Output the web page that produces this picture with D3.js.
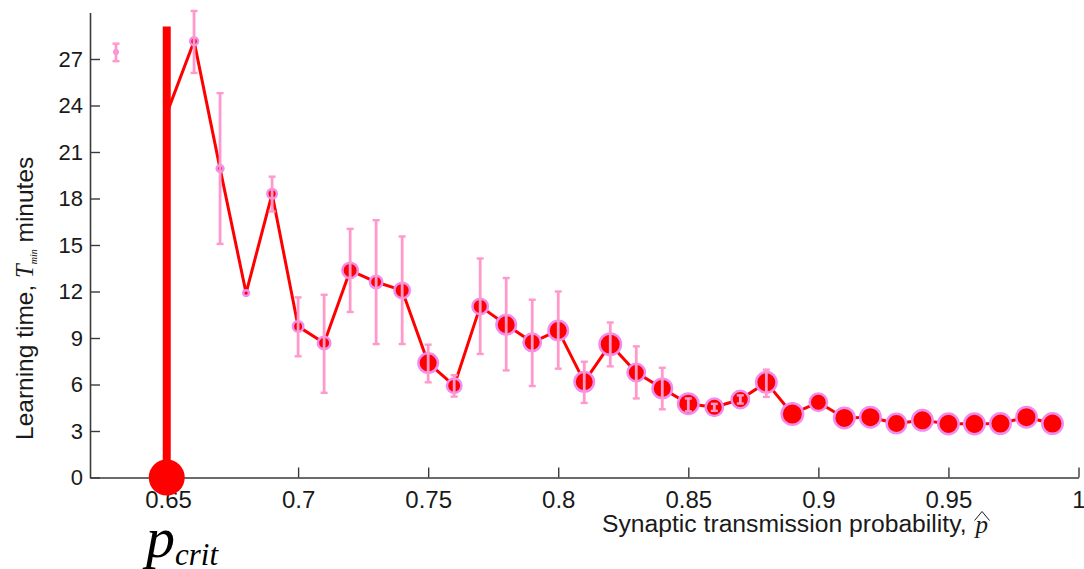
<!DOCTYPE html>
<html>
<head>
<meta charset="utf-8">
<script src="https://cdn.jsdelivr.net/npm/d3@7"></script>
<style>
  html, body { margin: 0; padding: 0; background: #fff; }
  svg { display: block; }
</style>
</head>
<body>
<svg id="chart" width="1084" height="569"></svg>
<script>
// Transmission probability at which each batch of runs was made
const pValues = [0.63, 0.64, 0.65, 0.66, 0.67, 0.68, 0.69, 0.70, 0.71, 0.72,
                 0.73, 0.74, 0.75, 0.76, 0.77, 0.78, 0.79, 0.80, 0.81, 0.82,
                 0.83, 0.84, 0.85, 0.86, 0.87, 0.88, 0.89, 0.90, 0.91, 0.92,
                 0.93, 0.94, 0.95, 0.96, 0.97, 0.98, 0.99];

// Mean learning time (minutes); no data at 0.64
const meanTime = [27.45, null, 23.7, 28.15, 19.93, 11.9, 18.3, 9.75, 8.68, 13.36,
                  12.61, 12.07, 7.39, 5.92, 11.04, 9.86, 8.72, 9.49, 6.17, 8.6,
                  6.77, 5.75, 4.76, 4.53, 5.03, 6.14, 4.1, 4.85, 3.84, 3.89,
                  3.48, 3.69, 3.46, 3.46, 3.48, 3.89, 3.48];

// Lower / upper ends of the error bars (minutes)
const lowerTime = [26.86, null, 23.7, 26.1, 15.07, 11.9, 17.16, 7.82, 5.46, 10.68,
                   8.61, 8.61, 6.14, 5.22, 7.97, 6.91, 5.9, 7.02, 4.81, 7.17,
                   5.1, 4.4, 4.27, 4.3, 4.77, 5.2, 4.1, 4.85, 3.84, 3.89,
                   3.48, 3.69, 3.46, 3.46, 3.48, 3.89, 3.48];
const upperTime = [27.99, null, 23.7, 30.1, 24.8, 11.9, 19.41, 11.62, 11.79, 16.04,
                   16.6, 15.55, 8.57, 6.6, 14.13, 12.87, 11.47, 12.0, 7.47, 10.0,
                   8.46, 7.08, 5.1, 4.75, 5.3, 6.96, 4.1, 4.85, 3.84, 3.89,
                   3.48, 3.69, 3.46, 3.46, 3.48, 3.89, 3.48];

// Fraction of runs that converged (sets marker area)
const convergedFraction = [0.06, null, 0.04, 0.19, 0.15, 0.12, 0.25, 0.29, 0.39, 0.56,
                           0.39, 0.56, 0.84, 0.5, 0.56, 0.84, 0.69, 0.84, 0.84, 1.0,
                           0.69, 0.84, 0.92, 0.69, 0.69, 0.92, 1.0, 0.69, 0.92, 0.92,
                           0.84, 0.92, 0.92, 0.92, 0.92, 0.92, 0.92];

// Critical probability marker
const pCrit = 0.6495;
const pCritBarTop = 29.1;

const xTicks = [0.65, 0.7, 0.75, 0.8, 0.85, 0.9, 0.95, 1];
const xTickLabels = ["0.65", "0.7", "0.75", "0.8", "0.85", "0.9", "0.95", "1"];
const yTicks = [0, 3, 6, 9, 12, 15, 18, 21, 24, 27];

const points = pValues.map((p, i) => ({
  p, t: meanTime[i], lo: lowerTime[i], hi: upperTime[i], w: convergedFraction[i]
}));

const svg = d3.select("#chart");
const x = d3.scaleLinear().domain([0.62, 1]).range([90, 1078.5]);
const y = d3.scaleLinear().domain([0, 30]).range([477.5, 12.5]);
const rOuter = d3.scaleSqrt().domain([0, 1]).range([0, 12]);

const axisColor = "#3a3a3a";
const textColor = "#1a1a1a";
const sans = "Liberation Sans, Arial, sans-serif";
const serif = "Liberation Serif, Times New Roman, serif";

// Axes: ticks point into the plot
const xAxis = svg.append("g")
  .attr("transform", `translate(0,${y(0)})`)
  .call(d3.axisBottom(x).tickValues(xTicks).tickFormat((d, i) => xTickLabels[i])
        .tickSizeInner(-10).tickSizeOuter(0).tickPadding(13));
const yAxis = svg.append("g")
  .attr("transform", `translate(${x(0.62)},0)`)
  .call(d3.axisLeft(y).tickValues(yTicks).tickFormat(d3.format("d"))
        .tickSizeInner(-10).tickSizeOuter(0).tickPadding(7));

[xAxis, yAxis].forEach(g => {
  g.select(".domain").attr("stroke", axisColor).attr("stroke-width", 1.6);
  g.selectAll(".tick line").attr("stroke", axisColor).attr("stroke-width", 1.4);
  g.selectAll("text").attr("fill", textColor).attr("font-family", sans);
});
xAxis.selectAll("text").attr("font-size", 24);
yAxis.selectAll("text").attr("font-size", 22);

// Axis titles
const xTitle = svg.append("text")
  .attr("x", 602).attr("y", 532)
  .attr("font-family", sans)
  .attr("font-size", 24.7).attr("fill", textColor)
  .text("Synaptic transmission probability,");
const xTitleEnd = 602 + xTitle.node().getComputedTextLength() + 8;
svg.append("text")
  .attr("x", xTitleEnd + 1).attr("y", 533)
  .attr("font-family", serif)
  .attr("font-style", "italic").attr("font-size", 25).attr("fill", textColor)
  .text("p");
svg.append("path")
  .attr("d", `M${xTitleEnd},520.5 L${xTitleEnd + 7.5},511.5 L${xTitleEnd + 15},520.5`)
  .attr("fill", "none").attr("stroke", textColor).attr("stroke-width", 1);

const yTitle = svg.append("text")
  .attr("transform", "translate(33,440) rotate(-90)")
  .attr("font-family", sans)
  .attr("font-size", 24.5).attr("fill", textColor);
yTitle.append("tspan").text("Learning time, ");
yTitle.append("tspan")
  .attr("font-family", serif)
  .attr("font-style", "italic").text("T");
yTitle.append("tspan")
  .attr("font-family", serif)
  .attr("font-style", "italic").attr("font-size", 10).attr("dy", 4).text("min");
yTitle.append("tspan").attr("dy", -4).text(" minutes");

// Connecting line (broken where there is no data)
const line = d3.line()
  .defined(d => d.t !== null && d.p >= 0.645)
  .x(d => x(d.p)).y(d => y(d.t));
svg.append("path")
  .datum(points)
  .attr("d", line)
  .attr("fill", "none").attr("stroke", "#ff0000").attr("stroke-width", 3)
  .attr("stroke-linejoin", "round");

const valid = points.filter(d => d.t !== null);

// Markers
const markerStroke = 2.5;
svg.append("g").selectAll("circle")
  .data(valid).join("circle")
  .attr("cx", d => x(d.p)).attr("cy", d => y(d.t))
  .attr("r", d => Math.max(0.8, rOuter(d.w) - markerStroke / 2))
  .attr("fill", "#ff0000")
  .attr("stroke", "#f08cf0").attr("stroke-width", markerStroke);

// Error bars on top of markers
const errColor = "#ff99cc";
const withErr = valid.filter(d => d.hi > d.lo);
const eg = svg.append("g").attr("stroke", errColor);
eg.selectAll("line.stem").data(withErr).join("line").attr("class", "stem")
  .attr("x1", d => x(d.p)).attr("x2", d => x(d.p))
  .attr("y1", d => y(d.lo)).attr("y2", d => y(d.hi))
  .attr("stroke-width", 2.8);
eg.selectAll("line.capHi").data(withErr).join("line").attr("class", "capHi")
  .attr("x1", d => x(d.p) - 3.5).attr("x2", d => x(d.p) + 3.5)
  .attr("y1", d => y(d.hi)).attr("y2", d => y(d.hi))
  .attr("stroke-width", 2.4);
eg.selectAll("line.capLo").data(withErr).join("line").attr("class", "capLo")
  .attr("x1", d => x(d.p) - 3.5).attr("x2", d => x(d.p) + 3.5)
  .attr("y1", d => y(d.lo)).attr("y2", d => y(d.lo))
  .attr("stroke-width", 2.4);

// Critical probability: thick bar with a large dot on the axis
svg.append("line")
  .attr("x1", x(pCrit)).attr("x2", x(pCrit))
  .attr("y1", y(0)).attr("y2", y(pCritBarTop))
  .attr("stroke", "#ff0000").attr("stroke-width", 8);
svg.append("circle")
  .attr("cx", x(pCrit)).attr("cy", y(0)).attr("r", 18)
  .attr("fill", "#ff0000");

// p_crit label
const pLabel = svg.append("text")
  .attr("x", 146).attr("y", 557)
  .attr("font-family", serif)
  .attr("font-style", "italic").attr("fill", "#000");
pLabel.append("tspan").attr("font-size", 58).text("p");
pLabel.append("tspan").attr("font-size", 31).attr("dy", 8).text("crit");
</script>
</body>
</html>
